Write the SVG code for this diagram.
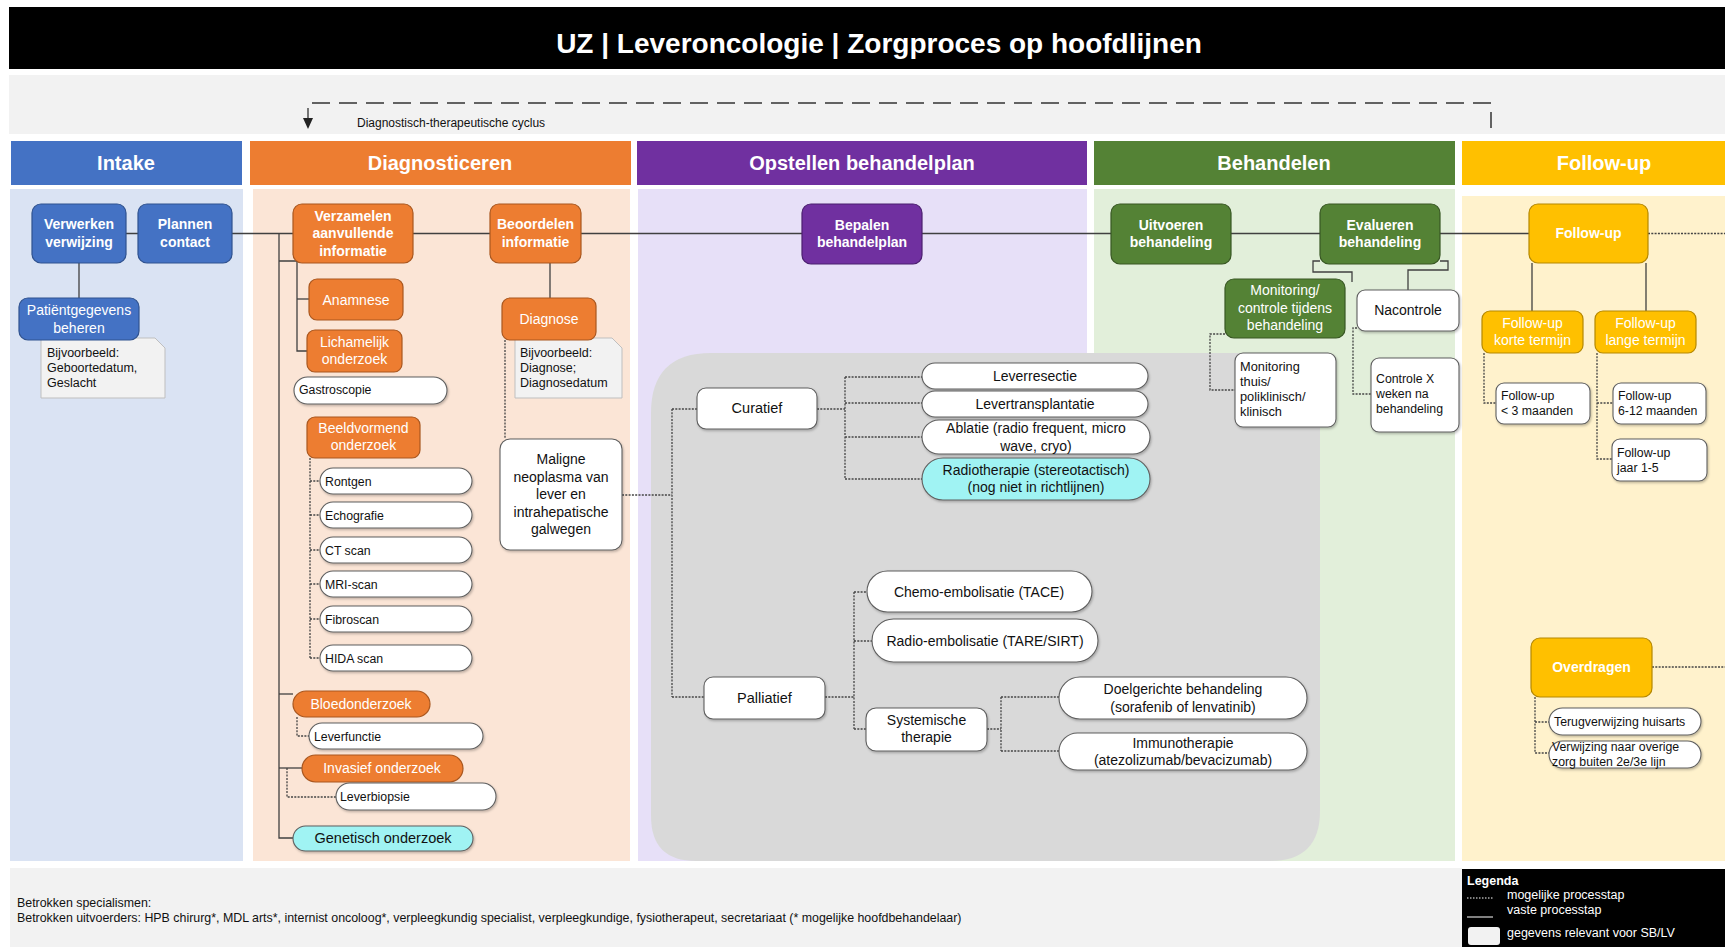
<svg xmlns="http://www.w3.org/2000/svg" width="1725" height="947" viewBox="0 0 1725 947">
<defs>
<style>
text{font-family:"Liberation Sans",Arial,sans-serif}
.title{font-size:28px;font-weight:bold;fill:#fff;text-anchor:middle}
.hdr{font-size:20px;font-weight:bold;fill:#fff;text-anchor:middle}
.nb{font-size:14px;font-weight:bold;fill:#fff;text-anchor:middle}
.nr{font-size:14px;fill:#fff;text-anchor:middle}
.nk{font-size:14px;fill:#111;text-anchor:middle}
.sm{font-size:12.3px;fill:#111}
.nt{font-size:12.5px;fill:#111}
.lg{font-size:12.5px;fill:#fff}
.c{stroke:#404040;stroke-width:1.3;fill:none}
.d{stroke:#444;stroke-width:1.3;stroke-dasharray:2 1.3;fill:none}
.blue{fill:#4472C4;stroke:#2F528F;stroke-width:1.2}
.orange{fill:#ED7D31;stroke:#A9571F;stroke-width:1.2}
.purple{fill:#7030A0;stroke:#4B1F6F;stroke-width:1.2}
.green{fill:#548235;stroke:#385723;stroke-width:1.2}
.yellow{fill:#FFC000;stroke:#B58800;stroke-width:1.2}
.white{fill:#fff;stroke:#5f5f5f;stroke-width:1.1;filter:url(#sh)}
.cyan{fill:#A0F3F3;stroke:#5f5f5f;stroke-width:1.1;filter:url(#sh)}
.note{fill:#F2F2F2;stroke:#BFBFBF;stroke-width:1}
</style>
<filter id="sh" x="-10%" y="-20%" width="120%" height="150%">
<feDropShadow dx="1" dy="1.5" stdDeviation="0.8" flood-color="#000" flood-opacity="0.25"/>
</filter>
</defs>

<rect x="0" y="0" width="1725" height="947" fill="#fff"/>

<g id="title">
<rect x="9" y="7" width="1716" height="62" fill="#000"/>
<text class="title" x="879" y="53">UZ | Leveroncologie | Zorgproces op hoofdlijnen</text>
</g>

<g id="cycle">
<rect x="9" y="75" width="1716" height="59" fill="#F2F2F2"/>
<path d="M1491,103 H308 V119" fill="none" stroke="#333" stroke-width="1.3" stroke-dasharray="18 9"/>
<path d="M303,118 L313,118 L308,129 Z" fill="#222"/>
<path d="M1491,112 V128" stroke="#333" stroke-width="1.5"/>
<text x="357" y="127" style="font-size:12px;fill:#111">Diagnostisch-therapeutische cyclus</text>
</g>

<g id="columns">
<rect x="11" y="141" width="231" height="44" fill="#4472C4"/>
<rect x="250" y="141" width="381" height="44" fill="#ED7D31"/>
<rect x="637" y="141" width="450" height="44" fill="#7030A0"/>
<rect x="1094" y="141" width="361" height="44" fill="#548235"/>
<rect x="1462" y="141" width="263" height="44" fill="#FFC000"/>
<text class="hdr" x="126" y="170">Intake</text>
<text class="hdr" x="440" y="170">Diagnosticeren</text>
<text class="hdr" x="862" y="170">Opstellen behandelplan</text>
<text class="hdr" x="1274" y="170">Behandelen</text>
<text class="hdr" x="1604" y="170">Follow-up</text>
<rect x="10" y="189" width="233" height="672" fill="#DAE3F3"/>
<rect x="253" y="189" width="377" height="672" fill="#FBE5D6"/>
<rect x="638" y="189" width="449" height="672" fill="#E7E0F8"/>
<rect x="1094" y="189" width="361" height="672" fill="#E2EFDA"/>
<rect x="1462" y="196" width="263" height="665" fill="#FFF2CC"/>
<path d="M711,353 H1320 V811 Q1320,861 1270,861 H696 Q651,861 651,816 V413 Q651,353 711,353 Z" fill="#D9D9D9"/>
</g>

<g id="footer">
<rect x="10" y="868" width="1452" height="79" fill="#F2F2F2"/>
<text x="17" y="907" style="font-size:12.4px;fill:#111">Betrokken specialismen:</text>
<text x="17" y="922" style="font-size:12.4px;fill:#111">Betrokken uitvoerders: HPB chirurg*, MDL arts*, internist oncoloog*, verpleegkundig specialist, verpleegkundige, fysiotherapeut, secretariaat (* mogelijke hoofdbehandelaar)</text>
</g>

<g id="legend">
<rect x="1462" y="869" width="263" height="78" fill="#000"/>
<text class="lg" x="1467" y="885" style="font-weight:bold">Legenda</text>
<path d="M1467,898 H1493" stroke="#fff" stroke-width="1" stroke-dasharray="1.5 1.5"/>
<text class="lg" x="1507" y="899">mogelijke processtap</text>
<path d="M1467,917 H1493" stroke="#fff" stroke-width="1"/>
<text class="lg" x="1507" y="914">vaste processtap</text>
<rect x="1468" y="927" width="32" height="18" rx="3" fill="#F2F2F2"/>
<text class="lg" x="1507" y="937">gegevens relevant voor SB/LV</text>
</g>

<g id="connectors">
<path class="c" d="M126,233.5 H1529"/>
<path class="c" d="M79,263 V298"/>
<path class="c" d="M279,233.5 V838 H293"/>
<path class="c" d="M279,261 H297 V351 H307"/>
<path class="c" d="M297,299 H309"/>
<path class="c" d="M279,694 H293"/>
<path class="c" d="M279,768 H302"/>
<path class="c" d="M550,263 V298"/>
<path class="c" d="M1532,263 V311"/>
<path class="c" d="M1646,263 V311"/>
<path class="c" d="M1320,261 H1313 V272 H1352 V282"/>
<path class="c" d="M1440,261 H1448 V270 H1408 V290"/>

<path class="d" d="M505,340 V439"/>
<path class="d" d="M310,458 V658 M310,481 H320 M310,515 H320 M310,550 H320 M310,584 H320 M310,619 H320 M310,658 H320"/>
<path class="d" d="M297,717 V736 H309"/>
<path class="d" d="M287,768 V797 H336"/>
<path class="d" d="M622,495 H672 M672,409 V697 M672,409 H697 M672,697 H704"/>
<path class="d" d="M817,409 H845 M845,377 V479 M845,377 H922 M845,403 H922 M845,437 H922 M845,479 H922"/>
<path class="d" d="M825,697 H854 M854,592 V729 M854,592 H867 M854,641 H872 M854,729 H866"/>
<path class="d" d="M987,729 H1001 M1001,697 V751 M1001,697 H1059 M1001,751 H1059"/>
<path class="d" d="M1225,334 H1210 V390 H1235"/>
<path class="d" d="M1357,328 H1353 V394 H1371"/>
<path class="d" d="M1484,353 V403 H1496"/>
<path class="d" d="M1597,353 V459 H1612 M1597,403 H1613"/>
<path class="d" d="M1648,233.5 H1725"/>
<path class="d" d="M1652,667 H1725"/>
<path class="d" d="M1535,697 V753 H1549 M1535,722 H1549"/>
</g>

<g id="n-verwerken"><rect class="blue" x="32" y="204" width="94" height="59" rx="9"/><text class="nb" x="79" y="229">Verwerken</text><text class="nb" x="79" y="247">verwijzing</text></g>
<g id="n-plannen"><rect class="blue" x="138" y="204" width="94" height="59" rx="9"/><text class="nb" x="185" y="229">Plannen</text><text class="nb" x="185" y="247">contact</text></g>
<g id="note-patient"><path class="note" d="M41,338 H155 L165,348 V398 H41 Z"/><text class="nt" x="47" y="357">Bijvoorbeeld:</text><text class="nt" x="47" y="372">Geboortedatum,</text><text class="nt" x="47" y="387">Geslacht</text></g>
<g id="n-patient"><rect class="blue" x="19" y="298" width="120" height="42" rx="9"/><text class="nr" x="79" y="315">Patiëntgegevens</text><text class="nr" x="79" y="333">beheren</text></g>

<g id="n-verzamelen"><rect class="orange" x="293" y="204" width="120" height="59" rx="9"/><text class="nb" x="353" y="221">Verzamelen</text><text class="nb" x="353" y="238">aanvullende</text><text class="nb" x="353" y="256">informatie</text></g>
<g id="n-beoordelen"><rect class="orange" x="490" y="204" width="91" height="59" rx="9"/><text class="nb" x="535.5" y="229">Beoordelen</text><text class="nb" x="535.5" y="247">informatie</text></g>
<g id="n-anamnese"><rect class="orange" x="309" y="279" width="94" height="41" rx="8"/><text class="nr" x="356" y="304.5">Anamnese</text></g>
<g id="n-lichamelijk"><rect class="orange" x="307" y="330" width="95" height="42" rx="8"/><text class="nr" x="354.5" y="347">Lichamelijk</text><text class="nr" x="354.5" y="364">onderzoek</text></g>
<g id="n-gastroscopie"><rect class="white" x="294" y="377" width="153" height="27" rx="13.5"/><text class="sm" x="299" y="394">Gastroscopie</text></g>
<g id="n-beeldvormend"><rect class="orange" x="307" y="417" width="113" height="41" rx="8"/><text class="nr" x="363.5" y="433">Beeldvormend</text><text class="nr" x="363.5" y="450">onderzoek</text></g>
<g id="n-rontgen"><rect class="white" x="320" y="468" width="152" height="26" rx="13"/><text class="sm" x="325" y="485.5">Rontgen</text></g>
<g id="n-echografie"><rect class="white" x="320" y="502" width="152" height="26" rx="13"/><text class="sm" x="325" y="519.5">Echografie</text></g>
<g id="n-ctscan"><rect class="white" x="320" y="537" width="152" height="26" rx="13"/><text class="sm" x="325" y="554.5">CT scan</text></g>
<g id="n-mriscan"><rect class="white" x="320" y="571" width="152" height="26" rx="13"/><text class="sm" x="325" y="588.5">MRI-scan</text></g>
<g id="n-fibroscan"><rect class="white" x="320" y="606" width="152" height="26" rx="13"/><text class="sm" x="325" y="623.5">Fibroscan</text></g>
<g id="n-hidascan"><rect class="white" x="320" y="645" width="152" height="26" rx="13"/><text class="sm" x="325" y="662.5">HIDA scan</text></g>
<g id="n-bloed"><rect class="orange" x="293" y="691" width="137" height="26" rx="13"/><text class="nr" x="361" y="708.5">Bloedonderzoek</text></g>
<g id="n-leverfunctie"><rect class="white" x="309" y="723" width="174" height="26" rx="13"/><text class="sm" x="314" y="740.5">Leverfunctie</text></g>
<g id="n-invasief"><rect class="orange" x="302" y="755" width="161" height="27" rx="13.5"/><text class="nr" x="382" y="773">Invasief onderzoek</text></g>
<g id="n-leverbiopsie"><rect class="white" x="336" y="783" width="160" height="27" rx="13.5"/><text class="sm" x="340" y="801">Leverbiopsie</text></g>
<g id="n-genetisch"><rect class="cyan" x="293" y="826" width="180" height="25" rx="12.5"/><text class="nk" x="383" y="843" style="font-size:14.5px">Genetisch onderzoek</text></g>
<g id="note-diagnose"><path class="note" d="M515,338 H612 L622,348 V398 H515 Z"/><text class="nt" x="520" y="357">Bijvoorbeeld:</text><text class="nt" x="520" y="372">Diagnose;</text><text class="nt" x="520" y="387">Diagnosedatum</text></g>
<g id="n-diagnose"><rect class="orange" x="502" y="298" width="94" height="42" rx="8"/><text class="nr" x="549" y="324">Diagnose</text></g>
<g id="n-maligne"><rect class="white" x="500" y="439" width="122" height="111" rx="10"/><text class="nk" x="561" y="464">Maligne</text><text class="nk" x="561" y="482">neoplasma van</text><text class="nk" x="561" y="499">lever en</text><text class="nk" x="561" y="517">intrahepatische</text><text class="nk" x="561" y="534">galwegen</text></g>

<g id="n-bepalen"><rect class="purple" x="802" y="204" width="120" height="60" rx="9"/><text class="nb" x="862" y="230">Bepalen</text><text class="nb" x="862" y="247">behandelplan</text></g>
<g id="n-curatief"><rect class="white" x="697" y="388" width="120" height="41" rx="9"/><text class="nk" x="757" y="413" style="font-size:14.5px">Curatief</text></g>
<g id="n-palliatief"><rect class="white" x="704" y="677" width="121" height="42" rx="9"/><text class="nk" x="764.5" y="702.5" style="font-size:14.5px">Palliatief</text></g>
<g id="n-leverresectie"><rect class="white" x="922" y="363" width="226" height="26" rx="13"/><text class="nk" x="1035" y="381">Leverresectie</text></g>
<g id="n-levertransplantatie"><rect class="white" x="922" y="391" width="226" height="26" rx="13"/><text class="nk" x="1035" y="409">Levertransplantatie</text></g>
<g id="n-ablatie"><rect class="white" x="922" y="420" width="228" height="34" rx="17"/><text class="nk" x="1036" y="433">Ablatie (radio frequent, micro</text><text class="nk" x="1036" y="451">wave, cryo)</text></g>
<g id="n-radiotherapie"><rect class="cyan" x="922" y="458" width="228" height="42" rx="21"/><text class="nk" x="1036" y="475">Radiotherapie (stereotactisch)</text><text class="nk" x="1036" y="492">(nog niet in richtlijnen)</text></g>
<g id="n-chemo"><rect class="white" x="867" y="571" width="225" height="41" rx="20.5"/><text class="nk" x="979" y="597">Chemo-embolisatie (TACE)</text></g>
<g id="n-radioemb"><rect class="white" x="872" y="619" width="226" height="43" rx="21.5"/><text class="nk" x="985" y="646">Radio-embolisatie (TARE/SIRT)</text></g>
<g id="n-systemische"><rect class="white" x="866" y="708" width="121" height="43" rx="10"/><text class="nk" x="926.5" y="725">Systemische</text><text class="nk" x="926.5" y="742">therapie</text></g>
<g id="n-doelgericht"><rect class="white" x="1059" y="677" width="248" height="42" rx="21"/><text class="nk" x="1183" y="694">Doelgerichte behandeling</text><text class="nk" x="1183" y="712">(sorafenib of lenvatinib)</text></g>
<g id="n-immuno"><rect class="white" x="1059" y="733" width="248" height="37" rx="18.5"/><text class="nk" x="1183" y="748">Immunotherapie</text><text class="nk" x="1183" y="765">(atezolizumab/bevacizumab)</text></g>

<g id="n-uitvoeren"><rect class="green" x="1111" y="204" width="120" height="60" rx="9"/><text class="nb" x="1171" y="230">Uitvoeren</text><text class="nb" x="1171" y="247">behandeling</text></g>
<g id="n-evalueren"><rect class="green" x="1320" y="204" width="120" height="60" rx="9"/><text class="nb" x="1380" y="230">Evalueren</text><text class="nb" x="1380" y="247">behandeling</text></g>
<g id="n-monitoring"><rect class="green" x="1225" y="279" width="120" height="59" rx="9"/><text class="nr" x="1285" y="295">Monitoring/</text><text class="nr" x="1285" y="313">controle tijdens</text><text class="nr" x="1285" y="330">behandeling</text></g>
<g id="n-nacontrole"><rect class="white" x="1357" y="290" width="102" height="41" rx="8"/><text class="nk" x="1408" y="315">Nacontrole</text></g>
<g id="n-monthuis"><rect class="white" x="1235" y="353" width="101" height="74" rx="8"/><text class="sm" x="1240" y="371" style="font-size:12.8px">Monitoring</text><text class="sm" x="1240" y="386" style="font-size:12.8px">thuis/</text><text class="sm" x="1240" y="401" style="font-size:12.8px">poliklinisch/</text><text class="sm" x="1240" y="416" style="font-size:12.8px">klinisch</text></g>
<g id="n-controlex"><rect class="white" x="1371" y="358" width="88" height="74" rx="8"/><text class="sm" x="1376" y="383">Controle X</text><text class="sm" x="1376" y="398">weken na</text><text class="sm" x="1376" y="413">behandeling</text></g>

<g id="n-followup"><rect class="yellow" x="1529" y="204" width="119" height="59" rx="9"/><text class="nb" x="1588.5" y="238">Follow-up</text></g>
<g id="n-korte"><rect class="yellow" x="1482" y="311" width="101" height="42" rx="8"/><text class="nr" x="1532.5" y="328">Follow-up</text><text class="nr" x="1532.5" y="345">korte termijn</text></g>
<g id="n-lange"><rect class="yellow" x="1595" y="311" width="101" height="42" rx="8"/><text class="nr" x="1645.5" y="328">Follow-up</text><text class="nr" x="1645.5" y="345">lange termijn</text></g>
<g id="n-lt3"><rect class="white" x="1496" y="383" width="94" height="41" rx="8"/><text class="sm" x="1501" y="400">Follow-up</text><text class="sm" x="1501" y="415">&lt; 3 maanden</text></g>
<g id="n-612"><rect class="white" x="1613" y="383" width="93" height="41" rx="8"/><text class="sm" x="1618" y="400">Follow-up</text><text class="sm" x="1618" y="415">6-12 maanden</text></g>
<g id="n-jaar"><rect class="white" x="1612" y="439" width="95" height="42" rx="8"/><text class="sm" x="1617" y="457">Follow-up</text><text class="sm" x="1617" y="472">jaar 1-5</text></g>
<g id="n-overdragen"><rect class="yellow" x="1531" y="638" width="121" height="59" rx="9"/><text class="nb" x="1591.5" y="672">Overdragen</text></g>
<g id="n-terug"><rect class="white" x="1549" y="708" width="152" height="27" rx="13.5"/><text class="sm" x="1554" y="725.5">Terugverwijzing huisarts</text></g>
<g id="n-verwijzing"><rect class="white" x="1549" y="741" width="152" height="27" rx="13.5"/><text class="sm" x="1552" y="751">Verwijzing naar overige</text><text class="sm" x="1552" y="766">zorg buiten 2e/3e lijn</text></g>
</svg>
